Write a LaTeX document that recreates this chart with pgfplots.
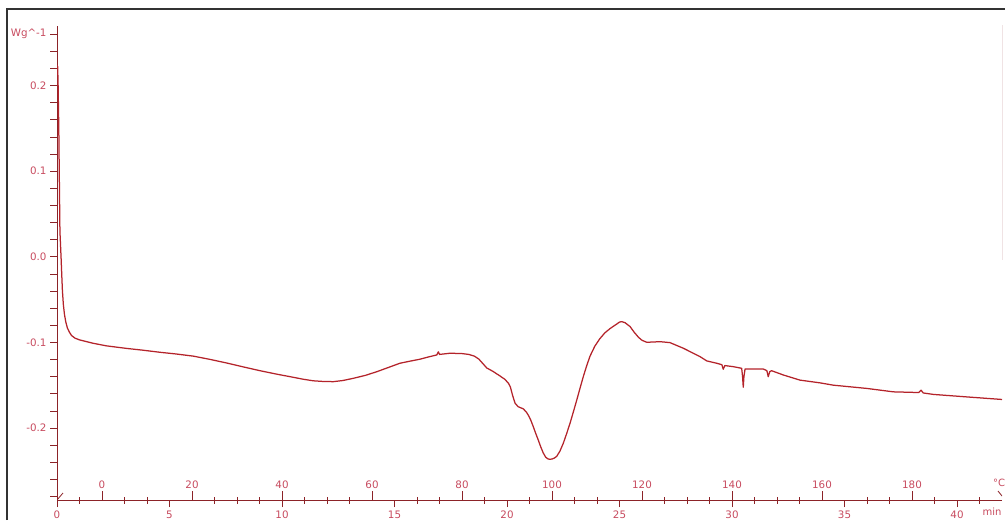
\documentclass[border=0pt]{standalone}
\usepackage{pgfplots}
\pgfplotsset{compat=1.18}
\usepackage{fontspec}
\setmainfont{DejaVu Sans}
\definecolor{curve}{RGB}{180,35,42}
\definecolor{axl}{RGB}{140,35,40}
\definecolor{lab}{RGB}{200,75,95}
\pgfplotstableread{
t y
0.00 0.224
0.03 0.222
0.05 0.200
0.08 0.150
0.10 0.100
0.13 0.030
0.18 0.000
0.21 -0.020
0.24 -0.039
0.28 -0.055
0.33 -0.067
0.39 -0.076
0.46 -0.083
0.55 -0.088
0.65 -0.092
0.80 -0.095
1.00 -0.097
1.30 -0.099
1.61 -0.101
2.20 -0.104
3.10 -0.107
3.80 -0.109
4.58 -0.1115
5.30 -0.1135
6.06 -0.116
6.80 -0.1198
7.54 -0.124
8.30 -0.1287
9.02 -0.133
9.76 -0.1370
10.50 -0.1407
10.95 -0.1430
11.39 -0.1448
11.85 -0.1456
12.28 -0.1458
12.70 -0.1445
13.17 -0.1419
13.70 -0.1385
14.21 -0.1342
14.70 -0.1295
15.24 -0.1243
15.70 -0.1218
16.13 -0.1196
16.50 -0.1170
16.88 -0.1146
16.95 -0.1110
17.00 -0.1140
17.47 -0.1126
18.00 -0.1130
18.30 -0.1140
18.55 -0.1160
18.75 -0.1195
18.92 -0.1245
19.10 -0.1298
19.39 -0.1340
19.69 -0.1392
19.90 -0.1430
20.06 -0.1475
20.15 -0.1520
20.25 -0.1620
20.36 -0.1711
20.50 -0.1751
20.72 -0.1775
20.85 -0.1810
20.95 -0.1850
21.06 -0.1910
21.17 -0.1985
21.28 -0.2065
21.39 -0.2140
21.50 -0.2220
21.61 -0.2290
21.72 -0.2340
21.82 -0.2360
21.91 -0.2365
22.02 -0.2360
22.12 -0.2348
22.21 -0.2330
22.35 -0.2270
22.50 -0.2179
22.65 -0.2065
22.80 -0.1945
22.95 -0.1810
23.10 -0.1673
23.25 -0.1530
23.39 -0.1400
23.55 -0.1265
23.69 -0.1160
23.90 -0.1045
24.13 -0.0955
24.35 -0.0888
24.58 -0.0838
24.85 -0.0790
25.00 -0.0762
25.10 -0.0757
25.25 -0.0770
25.47 -0.0815
25.65 -0.0880
25.84 -0.0939
26.00 -0.0975
26.21 -0.0998
26.50 -0.0995
26.80 -0.0991
27.24 -0.1002
27.84 -0.1068
28.58 -0.1166
28.88 -0.1216
29.32 -0.1243
29.55 -0.1260
29.61 -0.1313
29.68 -0.1270
30.06 -0.1283
30.43 -0.1302
30.47 -0.1400
30.50 -0.1524
30.53 -0.1400
30.58 -0.1310
31.39 -0.1310
31.55 -0.1330
31.61 -0.1400
31.68 -0.1340
31.76 -0.1330
32.28 -0.1380
33.02 -0.1440
33.91 -0.1472
34.50 -0.1499
35.99 -0.1537
37.17 -0.1577
38.30 -0.1585
38.40 -0.1557
38.50 -0.1590
38.95 -0.1607
40.43 -0.1636
42.00 -0.1666
}\dsc
\begin{document}
\begin{tikzpicture}[x=1pt,y=1pt]
\fill[white] (0,0) rectangle (1006,520);
\useasboundingbox (0,0) rectangle (1006,520);
\draw[line width=2pt, black!80] (7,0) -- (7,511) -- (1005,511);
\begin{axis}[
  at={(57pt,20pt)}, anchor=south west,
  scale only axis, width=945pt, height=474.4pt,
  xmin=0, xmax=42, ymin=-0.284, ymax=0.27,
  axis x line=bottom, axis y line=left,
  axis line style={axl, line width=0.9pt, -},
  every tick/.style={axl, line width=0.8pt},
  tick align=outside,
  major tick length=7pt, minor tick length=7pt,
  tick label style={font=\fontsize{10.3}{12}\selectfont, text=lab},
  xtick={0,5,10,15,20,25,30,35,40},
  xticklabels={0,5,10,15,20,25,30,35,40},
  minor xtick={1,3,4,7,8,9,11,12,13,16,17,19,21,23,24,27,28,29,31,32,33,36,37,39,41},
  minor x tick style={yshift=3.5pt},
  ytick={-0.2,-0.1,0,0.1,0.2},
  yticklabels={-0.2,-0.1,0.0,0.1,0.2},
  minor ytick={-0.28,-0.26,-0.24,-0.22,-0.18,-0.16,-0.14,-0.12,-0.08,-0.06,-0.04,-0.02,0.02,0.04,0.06,0.08,0.12,0.14,0.16,0.18,0.22,0.24},
  extra y ticks={0.26},
  extra y tick labels={Wg\^{}-1},
  extra x ticks={2,6,10,14,18,22,26,30,34,38},
  extra x tick labels={0,20,40,60,80,100,120,140,160,180},
  extra x tick style={major x tick style={yshift=9pt}, major tick length=9pt,
     xticklabel style={anchor=south, yshift=17pt}},
]
\addplot[curve, line width=1.25pt, line join=round] table[x=t, y=y] {\dsc};
\draw[axl, line width=0.8pt] (axis cs:42,-0.284) ++(0,-3pt) -- ++(0,13pt);
\draw[axl, line width=0.8pt] (axis cs:42,-0.284) ++(-4pt,9pt) -- ++(4pt,-5pt);
\draw[axl, line width=0.8pt] (axis cs:0,-0.284) -- ++(6pt,7pt);
\end{axis}
\node[font=\fontsize{10}{12}\selectfont, text=lab] at (999,37) {°C};
\node[font=\fontsize{10}{12}\selectfont, text=lab] at (992,8) {min};
\end{tikzpicture}
\end{document}
